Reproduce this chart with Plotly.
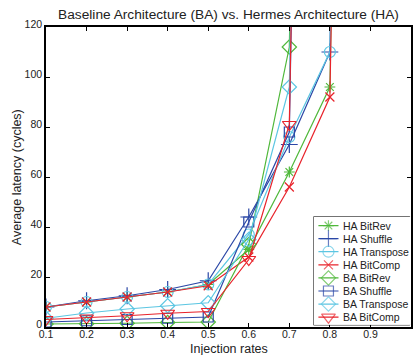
import plotly.graph_objects as go

rates = [0.1, 0.2, 0.3, 0.4, 0.5, 0.6, 0.7, 0.8, 0.9]

ha_bitrev    = [8, 10, 12, 14, 17, 31, 62, 96, 1000]
ha_shuffle   = [8, 10.5, 12.5, 15, 18.5, 44, 73, 110, 1000]
ha_transpose = [8, 10, 12, 14, 17, 37, 76, 110, 1000]
ha_bitcomp   = [8, 10, 12, 14, 16.5, 28, 56, 92, 1000]

ba_bitrev    = [1.2, 1.3, 1.5, 1.8, 2, 33, 112, 1000]
ba_shuffle   = [2, 2.5, 3, 3.5, 4, 42, 78, 1000]
ba_transpose = [3.5, 5.6, 7.2, 8.5, 9.7, 35, 96, 1000]
ba_bitcomp   = [3, 3.6, 4.5, 5.5, 6.2, 27, 81, 1000]

GREEN = "#4fb83a"
BLUE = "#2b47a6"
CYAN = "#5cc6e2"
RED = "#e8232b"

series = [
    ("HA BitRev", ha_bitrev, GREEN, "asterisk-open", 9),
    ("HA Shuffle", ha_shuffle, BLUE, "cross-thin-open", 12),
    ("HA Transpose", ha_transpose, CYAN, "circle-open", 11),
    ("HA BitComp", ha_bitcomp, RED, "x-thin-open", 9),
    ("BA BitRev", ba_bitrev, GREEN, "diamond-open", 11),
    ("BA Shuffle", ba_shuffle, BLUE, "square-open", 10),
    ("BA Transpose", ba_transpose, CYAN, "diamond-open", 11),
    ("BA BitComp", ba_bitcomp, RED, "triangle-down-open", 12),
]

FONT = "Liberation Sans, Arial"
TXT = "#222"

fig = go.Figure()
for name, vals, col, sym, sz in series:
    fig.add_trace(go.Scatter(
        x=rates[:len(vals)], y=vals, name=name, mode="lines+markers",
        line=dict(color=col, width=1.2),
        marker=dict(symbol=sym, size=sz, color=col, line=dict(color=col, width=1.2)),
        showlegend=False,
    ))

# custom compact legend drawn in a hidden inset subplot
for i, (name, vals, col, sym, sz) in enumerate(series):
    fig.add_trace(go.Scatter(
        x=[0.05, 0.153, 0.256], y=[i, i, i], mode="lines+markers",
        line=dict(color=col, width=1.2),
        marker=dict(symbol=sym, size=[0, sz, 0], color=col, line=dict(color=col, width=1.2)),
        xaxis="x2", yaxis="y2", showlegend=False, hoverinfo="skip",
    ))
    fig.add_annotation(x=0.285, y=i, xref="x2", yref="y2", text=name, showarrow=False,
                       xanchor="left", yanchor="middle",
                       font=dict(family=FONT, size=10.5, color=TXT))

fig.add_shape(type="rect", xref="paper", yref="paper", x0=0.733, x1=0.997, y0=0.007, y1=0.367,
              line=dict(color="black", width=1), fillcolor="white", layer="below")

axis_common = dict(
    showline=True, linecolor="black", linewidth=1.5, mirror="ticks",
    ticks="inside", ticklen=4, tickcolor="black", showgrid=False, zeroline=False,
    tickfont=dict(family=FONT, size=10.5, color=TXT),
)

fig.update_layout(
    width=414, height=355,
    margin=dict(l=46, r=1, t=27, b=28),
    paper_bgcolor="white", plot_bgcolor="white",
    title=dict(text="Baseline Architecture (BA) vs. Hermes Architecture (HA)",
               xref="paper", x=0.5, xanchor="center", y=0.96, yanchor="middle",
               font=dict(family=FONT, size=13.7, color=TXT)),
    xaxis=dict(range=[0.1, 1.0], tickvals=[0.1, 0.2, 0.3, 0.4, 0.5, 0.6, 0.7, 0.8, 0.9, 1.0],
               ticktext=["0.1", "0.2", "0.3", "0.4", "0.5", "0.6", "0.7", "0.8", "0.9", "1"],
               ticklabelstandoff=-3, **axis_common),
    yaxis=dict(range=[0, 120], tickvals=[0, 20, 40, 60, 80, 100, 120],
               ticklabelshift=-3, **axis_common),
    xaxis2=dict(domain=[0.733, 1.0], range=[0, 1], visible=False, fixedrange=True, anchor="y2"),
    yaxis2=dict(domain=[0.007, 0.367], range=[7.59, -0.66], visible=False, fixedrange=True, anchor="x2"),
    showlegend=False,
)

fig.add_annotation(x=0.5, y=-0.072, xref="paper", yref="paper", text="Injection rates",
                   showarrow=False, xanchor="center", yanchor="middle",
                   font=dict(family=FONT, size=12.5, color=TXT))
fig.add_annotation(x=-0.079, y=0.5, xref="paper", yref="paper", text="Average latency (cycles)",
                   showarrow=False, xanchor="center", yanchor="middle", textangle=-90,
                   font=dict(family=FONT, size=12.5, color=TXT))

fig.write_html("out.html")
